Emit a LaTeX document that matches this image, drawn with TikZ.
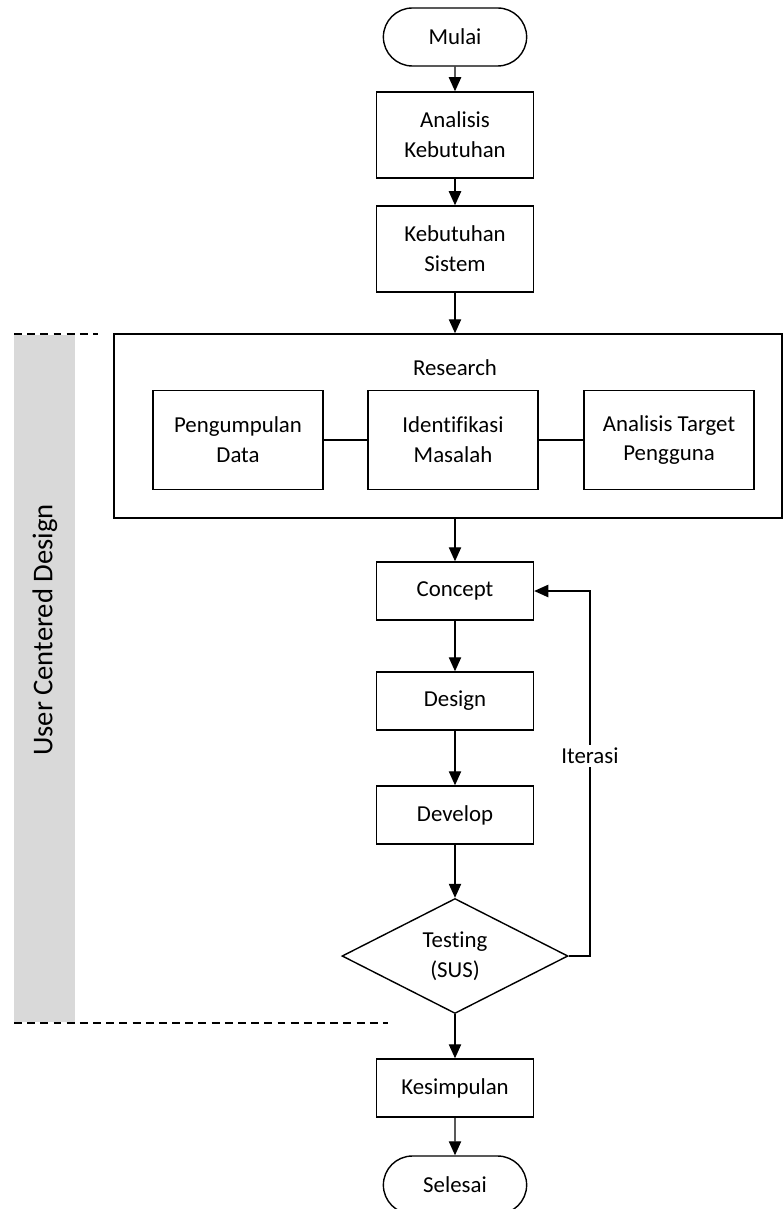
\documentclass[tikz,border=0pt]{standalone}
\usepackage{fontspec}
\setmainfont{Carlito}[Ligatures=NoCommon]
\usetikzlibrary{shapes.geometric,shapes.misc,arrows.meta}

\begin{document}
\begin{tikzpicture}[x=0.02cm,y=-0.02cm,
        font=\fontsize{13}{17}\selectfont,
        proses/.style={draw,line width=0.8pt,minimum width=3.14cm,minimum height=1.16cm,align=center,inner sep=2pt},
        ujung/.style={draw,rounded rectangle,line width=0.8pt,minimum width=3.1cm,minimum height=1.16cm},
        panah/.style={line width=0.8pt,-{Triangle[length=8pt,width=7pt]}},
        garis/.style={line width=0.9pt,dash pattern=on 4.5pt off 3pt}]
        \useasboundingbox (0,0) rectangle (783,1209);
        % pita UCD
        \fill[gray!30] (14,335) rectangle (75,1022);
        \node[rotate=90,font=\fontsize{16.3}{19}\selectfont] (ucd) at (45,630){User Centered Design};
        \coordinate (g1a) at (14,334); \coordinate (g1b) at (98,334);
        \coordinate (g2a) at (14,1023); \coordinate (g2b) at (388,1023);
        \draw[garis] (g1a) -- (g1b);
        \draw[garis] (g2a) -- (g2b);
        % alur utama
        \node[ujung] (mulai) at (455,37){Mulai};
        \node[proses,minimum height=1.72cm] (ak) at (455,135){Analisis\\Kebutuhan};
        \node[proses,minimum height=1.72cm] (ks) at (455,249){Kebutuhan\\Sistem};
        \node[draw,line width=0.8pt,minimum width=13.36cm,minimum height=3.68cm] (res) at (448,426){};
        \node (reslbl) at (455,368){Research};
        \node[proses,minimum width=3.4cm,minimum height=1.98cm] (pd) at (238,440){Pengumpulan\\Data};
        \node[proses,minimum width=3.4cm,minimum height=1.98cm] (im) at (453,440){Identifikasi\\Masalah};
        \node[proses,minimum width=3.4cm,minimum height=1.98cm] (at) at (669,440){Analisis Target\\Pengguna};
        \node[proses] (konsep) at (455,591){Concept};
        \node[proses] (desain) at (455,701){Design};
        \node[proses] (dev) at (455,815){Develop};
        \node[draw,diamond,line width=0.8pt,aspect=2,minimum width=4.52cm,minimum height=2.3cm,inner sep=0pt,align=center] (uji) at (455,956){Testing\\(SUS)};
        \node[proses] (kes) at (455,1088){Kesimpulan};
        \node[ujung] (selesai) at (455,1185){Selesai};
        \draw[panah] (mulai) -- (ak);
        \draw[panah] (ak) -- (ks);
        \draw[panah] (ks) -- (ks |- res.north);
        \draw[line width=0.8pt] (pd) -- (im);
        \draw[line width=0.8pt] (im) -- (at);
        \draw[panah] (konsep |- res.south) -- (konsep);
        \draw[panah] (konsep) -- (desain);
        \draw[panah] (desain) -- (dev);
        \draw[panah] (dev) -- (uji);
        \draw[panah] (uji) -- (kes);
        \draw[panah] (kes) -- (selesai);
        % iterasi
        \coordinate (belok) at (590,591);
        \draw[panah] (uji.east) -| (belok) -- (konsep.east);
        \node[fill=white,inner sep=2pt] (iter) at (590,756){Iterasi};
    \end{tikzpicture}
\end{document}
